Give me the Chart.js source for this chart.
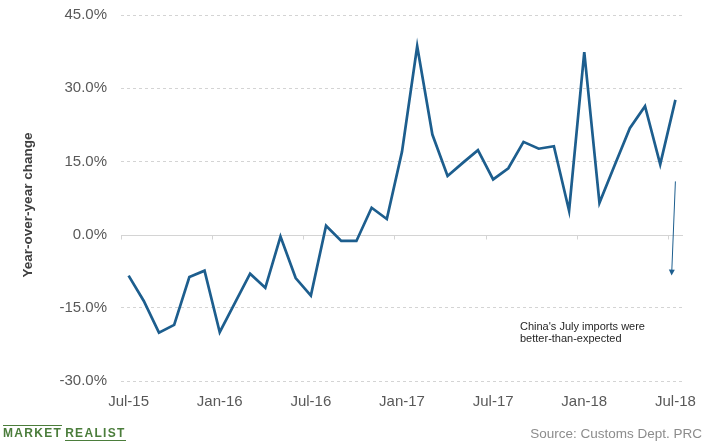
<!DOCTYPE html>
<html>
<head>
<meta charset="utf-8">
<script src="https://cdn.jsdelivr.net/npm/chart.js@4/dist/chart.umd.min.js"></script>
<style>
  body { margin: 0; background: #fff; }
  #wrap { position: relative; width: 706px; height: 444px; font-family: "Liberation Sans", Arial, sans-serif; }
  #ytitle { position: absolute; left: -72px; top: 197px; width: 200px; line-height: 16px; text-align: center;
            font-size: 13.5px; font-weight: bold; color: #404040; transform: rotate(-90deg); }
  #note { position: absolute; left: 520px; top: 320px; font-size: 11px; line-height: 12px; color: #262626; }
  #source { position: absolute; right: 4px; top: 426px; font-size: 13.5px; color: #8c8c8c; }
  #logo { position: absolute; left: 3px; top: 425px; font-size: 12px; font-weight: bold; letter-spacing: 1.3px; color: #4b7d3b; line-height: 14px; }
  #logo span { display: inline-block; }
  #logo .m { border-top: 1.5px solid #4b7d3b; }
  #logo .r { border-bottom: 1.5px solid #4b7d3b; margin-left: 3px; }
</style>
</head>
<body>
<div id="wrap">
  <canvas id="myChart" width="706" height="444"></canvas>
  <div id="ytitle">Year-over-year change</div>
  <div id="note">China's July imports were<br>better-than-expected</div>
  <div id="logo"><span class="m">MARKET</span><span class="r">REALIST</span></div>
  <div id="source">Source: Customs Dept. PRC</div>
</div>
<script>
'use strict';

// monthly categories, Jul-15 .. Jul-18
const months = [
  'Jul-15', 'Aug-15', 'Sep-15', 'Oct-15', 'Nov-15', 'Dec-15',
  'Jan-16', 'Feb-16', 'Mar-16', 'Apr-16', 'May-16', 'Jun-16',
  'Jul-16', 'Aug-16', 'Sep-16', 'Oct-16', 'Nov-16', 'Dec-16',
  'Jan-17', 'Feb-17', 'Mar-17', 'Apr-17', 'May-17', 'Jun-17',
  'Jul-17', 'Aug-17', 'Sep-17', 'Oct-17', 'Nov-17', 'Dec-17',
  'Jan-18', 'Feb-18', 'Mar-18', 'Apr-18', 'May-18', 'Jun-18',
  'Jul-18'
];

// year-over-year change in imports, %
const importsYoY = [
  -8.4, -13.6, -20.1, -18.5, -8.7, -7.4,
  -20.0, -14.0, -8.0, -10.9, -0.4, -8.9,
  -12.5, 1.8, -1.3, -1.3, 5.5, 3.2,
  17.0, 38.6, 20.5, 12.0, 14.7, 17.3,
  11.3, 13.6, 19.0, 17.6, 18.1, 4.9,
  37.4, 6.5, 14.2, 21.8, 26.3, 14.4,
  27.6
];

const yTicks = [-30, -15, 0, 15, 30, 45];
const xLabelEvery = 6;

// arrow pointing to the July note: [category index, value]
const arrowFrom = [36, 10.9];
const arrowTo = [35.75, -8.4];

const lineBlue = '#1d5e8e';
const gridGrey = '#d4d4d4';

const extras = {
  id: 'extras',
  beforeDatasetsDraw(chart) {
    const ctx = chart.ctx;
    const x = chart.scales.x, y = chart.scales.y;
    const area = chart.chartArea;
    const y0 = Math.round(y.getPixelForValue(0)) + 0.5;
    const half = (x.getPixelForValue(1) - x.getPixelForValue(0)) / 2;
    ctx.save();
    ctx.strokeStyle = gridGrey;
    ctx.lineWidth = 1;
    ctx.beginPath();
    ctx.moveTo(area.left, y0);
    ctx.lineTo(area.right, y0);
    for (let i = 0; i <= months.length; i += xLabelEvery) {
      const px = Math.round(x.getPixelForValue(i) - half) + 0.5;
      ctx.moveTo(px, y0);
      ctx.lineTo(px, y0 + 4);
    }
    ctx.stroke();
    ctx.restore();
  },
  afterDatasetsDraw(chart) {
    const ctx = chart.ctx;
    const x = chart.scales.x, y = chart.scales.y;
    const fx = x.getPixelForValue(arrowFrom[0]), fy = y.getPixelForValue(arrowFrom[1]);
    const tx = x.getPixelForValue(arrowTo[0]), ty = y.getPixelForValue(arrowTo[1]);
    const ang = Math.atan2(ty - fy, tx - fx);
    ctx.save();
    ctx.strokeStyle = lineBlue;
    ctx.fillStyle = lineBlue;
    ctx.lineWidth = 1;
    ctx.beginPath();
    ctx.moveTo(fx, fy);
    ctx.lineTo(tx - 4 * Math.cos(ang), ty - 4 * Math.sin(ang));
    ctx.stroke();
    ctx.beginPath();
    ctx.moveTo(tx, ty);
    ctx.lineTo(tx - 6 * Math.cos(ang) + 3 * Math.sin(ang), ty - 6 * Math.sin(ang) - 3 * Math.cos(ang));
    ctx.lineTo(tx - 6 * Math.cos(ang) - 3 * Math.sin(ang), ty - 6 * Math.sin(ang) + 3 * Math.cos(ang));
    ctx.closePath();
    ctx.fill();
    ctx.restore();
  }
};

const chart = new Chart(document.getElementById('myChart'), {
  type: 'line',
  data: {
    labels: months,
    datasets: [{
      label: 'Imports YoY',
      data: importsYoY,
      borderColor: lineBlue,
      borderWidth: 2.7,
      pointRadius: 0,
      tension: 0,
      fill: false
    }]
  },
  options: {
    responsive: false,
    animation: false,
    layout: { padding: { top: 15, right: 23, bottom: 30, left: 0 } },
    plugins: { legend: { display: false }, tooltip: { enabled: false } },
    scales: {
      x: {
        type: 'category',
        offset: true,
        grid: { display: false },
        border: { display: false },
        ticks: {
          autoSkip: false,
          maxRotation: 0,
          padding: 4,
          color: '#595959',
          font: { family: 'Liberation Sans', size: 15 },
          callback: (v, i) => (i % xLabelEvery === 0 ? months[i] : '')
        },
        afterFit: s => { s.height = 33; }
      },
      y: {
        min: -30,
        max: 45,
        afterBuildTicks: s => { s.ticks = yTicks.map(v => ({ value: v })); },
        grid: {
          drawTicks: false,
          color: c => (c.tick && c.tick.value === 0 ? 'rgba(0,0,0,0)' : gridGrey)
        },
        border: { display: false, dash: [3, 3] },
        ticks: {
          padding: 14,
          color: '#595959',
          font: { family: 'Liberation Sans', size: 15 },
          callback: v => v.toFixed(1) + '%'
        },
        afterFit: s => { s.width = 121; s.paddingTop = 6; s.paddingBottom = 6; }
      }
    }
  },
  plugins: [extras]
});
</script>
</body>
</html>
